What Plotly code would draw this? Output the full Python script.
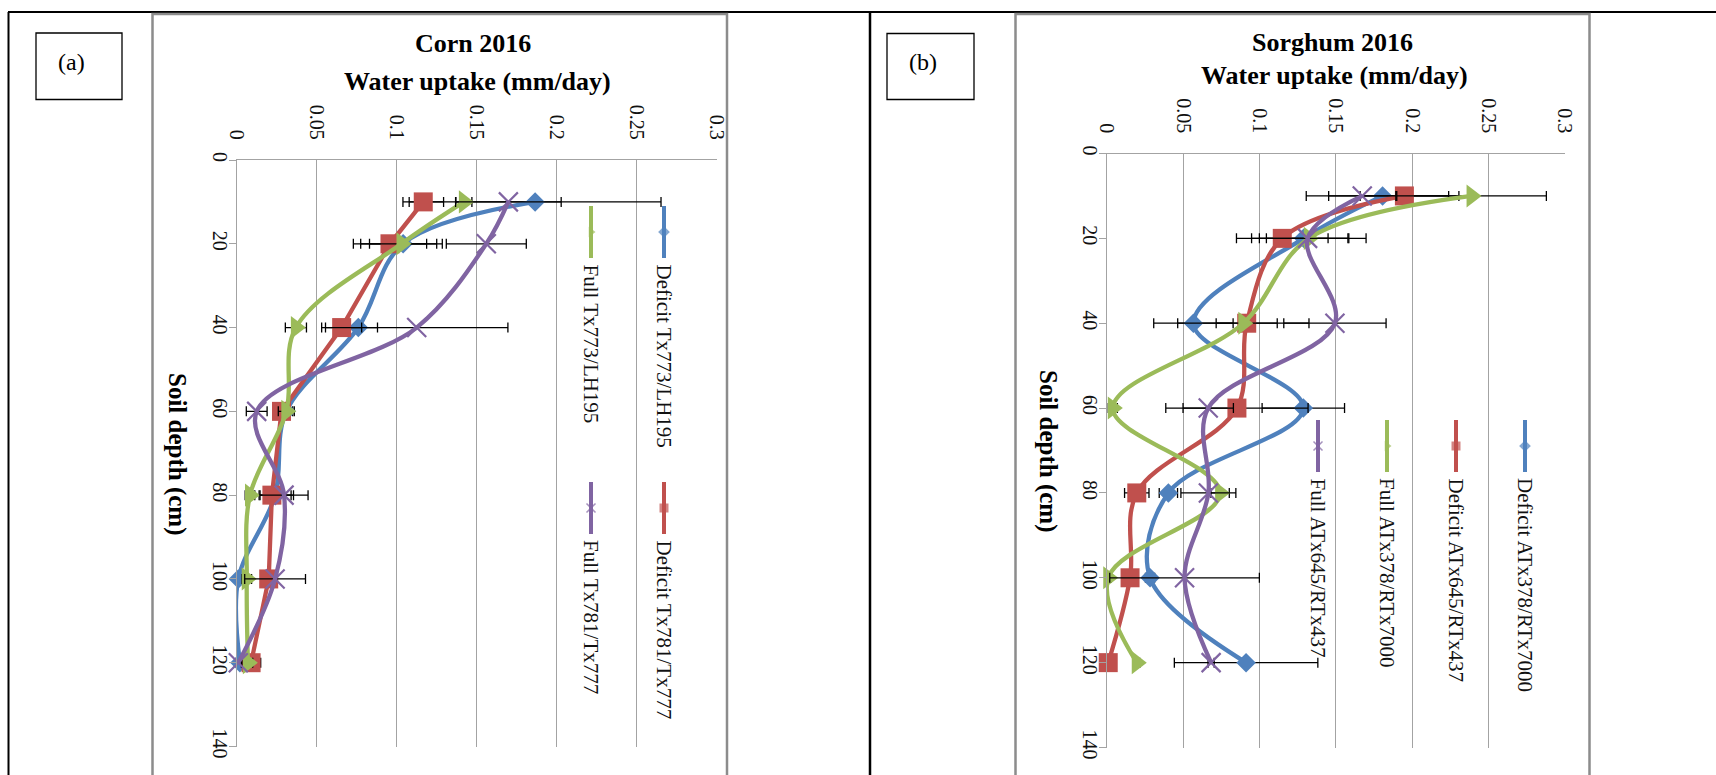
import plotly.graph_objects as go

W, H = 1716, 775

# ---- data -------------------------------------------------------------
depth = [10, 20, 40, 60, 80, 100, 120]

uptake_ticks = [0, 0.05, 0.1, 0.15, 0.2, 0.25, 0.3]
uptake_tick_text = ["0", "0.05", "0.1", "0.15", "0.2", "0.25", "0.3"]
depth_ticks = [0, 20, 40, 60, 80, 100, 120, 140]
depth_tick_text = ["0", "20", "40", "60", "80", "100", "120", "140"]

# Corn 2016 (mm/day) and standard errors
corn_names = ["Deficit Tx773/LH195", "Deficit Tx781/Tx777",
              "Full Tx773/LH195", "Full Tx781/Tx777"]
corn_deficit_773 = [0.1865, 0.104, 0.076, 0.031, 0.024, 0.001, 0.002]
corn_deficit_773_se = [0.0787, 0.021, 0.012, 0.004, 0.010, 0.002, 0.002]
corn_deficit_781 = [0.1166, 0.0958, 0.0656, 0.028, 0.022, 0.020, 0.009]
corn_deficit_781_se = [0.0127, 0.0229, 0.0125, 0.004, 0.0135, 0.004, 0.006]
corn_full_773 = [0.142, 0.103, 0.037, 0.031, 0.0083, 0.0063, 0.007]
corn_full_773_se = [0.005, 0.0255, 0.0066, 0.005, 0.003, 0.003, 0.003]
corn_full_781 = [0.1698, 0.156, 0.1125, 0.0125, 0.0296, 0.024, 0.001]
corn_full_781_se = [0.033, 0.025, 0.057, 0.0065, 0.015, 0.019, 0.002]

# Sorghum 2016 (mm/day) and standard errors
sorghum_names = ["Deficit ATx378/RTx7000", "Deficit ATx645/RTx437",
                 "Full ATx378/RTx7000", "Full ATx645/RTx437"]
sorghum_deficit_378 = [0.1807, 0.129, 0.0568, 0.1288, 0.0404, 0.0284, 0.0913]
sorghum_deficit_378_se = [0.050, 0.029, 0.026, 0.027, 0.006, 0.003, 0.047]
sorghum_deficit_645 = [0.195, 0.115, 0.0917, 0.0853, 0.0197, 0.0153, 0.001]
sorghum_deficit_645_se = [0.029, 0.030, 0.020, 0.0466, 0.008, 0.003, 0.002]
sorghum_full_378 = [0.239, 0.1324, 0.0895, 0.004, 0.0743, 0.001, 0.0197]
sorghum_full_378_se = [0.049, 0.0375, 0.043, 0.003, 0.006, 0.002, 0.002]
sorghum_full_645 = [0.1674, 0.1316, 0.1495, 0.0665, 0.0666, 0.051, 0.0684]
sorghum_full_645_se = [0.022, 0.027, 0.0335, 0.0165, 0.018, 0.049, 0.002]

# ---- styling ----------------------------------------------------------
BLUE, RED, GREEN, PURPLE = "#4F81BD", "#C0504D", "#9BBB59", "#8064A2"
SERIF = "Times New Roman, Liberation Serif, serif"
GRID = "#a3a3a3"

styles = [
    dict(color=BLUE, symbol="diamond", size=15),
    dict(color=RED, symbol="square", size=19),
    dict(color=GREEN, symbol="triangle-right", size=20),
    dict(color=PURPLE, symbol="x-thin", size=19),
]

fig = go.Figure()


def add_series(vals, errs, st, xa, ya, shape="spline"):
    marker = dict(symbol=st["symbol"], size=st["size"], color=st["color"],
                  line=dict(color=st["color"], width=2.2 if st["symbol"] == "x-thin" else 0))
    fig.add_trace(go.Scatter(
        x=vals, y=depth, xaxis=xa, yaxis=ya, mode="lines+markers",
        line=dict(color=st["color"], width=4.3, shape=shape, smoothing=1),
        marker=marker,
        error_x=dict(type="data", array=errs, visible=True, color="black",
                     thickness=1.3, width=5),
        cliponaxis=False, showlegend=False, hoverinfo="skip"))


corn = [(corn_deficit_773, corn_deficit_773_se, "spline"),
        (corn_deficit_781, corn_deficit_781_se, "linear"),
        (corn_full_773, corn_full_773_se, "spline"),
        (corn_full_781, corn_full_781_se, "spline")]
for (v, e, shp), st in zip(corn, styles):
    add_series(v, e, st, "x", "y", shp)

sorghum = [(sorghum_deficit_378, sorghum_deficit_378_se),
           (sorghum_deficit_645, sorghum_deficit_645_se),
           (sorghum_full_378, sorghum_full_378_se),
           (sorghum_full_645, sorghum_full_645_se)]
for (v, e), st in zip(sorghum, styles):
    add_series(v, e, st, "x2", "y2")

# ---- legend glyphs and page furniture on a pixel-space overlay ---------
annotations = []
shapes = []


def legend_entry(cx, y_top, st, label):
    y_bot = y_top + 52
    fig.add_trace(go.Scatter(
        x=[cx, cx, cx], y=[y_top, (y_top + y_bot) / 2, y_bot],
        xaxis="x3", yaxis="y3", mode="lines+markers",
        line=dict(color=st["color"], width=4),
        marker=dict(symbol=st["symbol"], size=[0, 9, 0], color=st["color"],
                    line=dict(color=st["color"], width=1.5 if st["symbol"] == "x-thin" else 0)),
        showlegend=False, hoverinfo="skip", cliponaxis=False))
    annotations.append(dict(x=cx, y=y_bot + 4, xref="x3", yref="y3", text=label,
                            textangle=90, showarrow=False, xanchor="center", yanchor="top",
                            font=dict(family=SERIF, size=21, color="#111")))


# corn legend: two columns of two entries
legend_entry(664, 206, styles[0], corn_names[0])
legend_entry(664, 482, styles[1], corn_names[1])
legend_entry(591, 206, styles[2], corn_names[2])
legend_entry(591, 482, styles[3], corn_names[3])
# sorghum legend: four stacked columns
legend_entry(1525, 420, styles[0], sorghum_names[0])
legend_entry(1456, 420, styles[1], sorghum_names[1])
legend_entry(1387, 420, styles[2], sorghum_names[2])
legend_entry(1318, 420, styles[3], sorghum_names[3])


def text(x, y, s, size, bold=False, angle=0):
    annotations.append(dict(x=x, y=y, xref="x3", yref="y3", text=s, textangle=angle,
                            showarrow=False, xanchor="center", yanchor="middle",
                            font=dict(family=SERIF, size=size, color="black",
                                      weight="bold" if bold else "normal")))


text(473, 43, "Corn 2016", 26, bold=True)
text(477, 81, "Water uptake (mm/day)", 26, bold=True)
text(1332, 42, "Sorghum 2016", 26, bold=True)
text(1334, 75, "Water uptake (mm/day)", 26, bold=True)
text(177, 454, "Soil depth (cm)", 25, bold=True, angle=90)
text(1048, 451, "Soil depth (cm)", 25, bold=True, angle=90)
text(71, 62, "(a)", 24)
text(923, 62, "(b)", 24)


def line(x0, y0, x1, y1, color="black", width=2):
    shapes.append(dict(type="line", x0=x0, y0=y0, x1=x1, y1=y1, xref="x3", yref="y3",
                       line=dict(color=color, width=width)))


def rect(x0, y0, x1, y1, color="black", width=1.3):
    shapes.append(dict(type="rect", x0=x0, y0=y0, x1=x1, y1=y1, xref="x3", yref="y3",
                       line=dict(color=color, width=width), fillcolor="rgba(0,0,0,0)"))


# table rules
line(8, 12, W, 12, width=2)
line(8.5, 12, 8.5, H, width=2)
line(870, 12, 870, H, width=2.5)
# label boxes
rect(36, 33, 122, 99.5)
rect(887, 33.5, 974, 99.5)
# chart frames
rect(152.5, 14, 727, H + 10, color="#8c8c8c", width=2.5)
rect(1015.5, 14, 1589.5, H + 10, color="#8c8c8c", width=2.5)


def px_x(p):
    return p / W


def px_y(p):
    return 1 - p / H


def uptake_axis(x0, x1, anchor):
    return dict(domain=[px_x(x0), px_x(x1)], range=[0, 0.3], side="top", anchor=anchor,
                tickvals=uptake_ticks, ticktext=uptake_tick_text, tickangle=90,
                ticks="", showgrid=True, gridcolor=GRID, gridwidth=1.2,
                showline=True, linecolor=GRID, linewidth=1.3, zeroline=False,
                tickfont=dict(family=SERIF, size=20, color="#111"),
                ticklabelstandoff=12, fixedrange=True, automargin=False)


def depth_axis(y0, y1, anchor):
    return dict(domain=[px_y(y1), px_y(y0)], range=[140, 0], anchor=anchor,
                tickvals=depth_ticks, ticktext=depth_tick_text, tickangle=90,
                ticks="outside", ticklen=7, tickcolor=GRID, tickwidth=1.3,
                showgrid=False, showline=True, linecolor=GRID, linewidth=1.3,
                zeroline=False, tickfont=dict(family=SERIF, size=20, color="#111"),
                ticklabelstandoff=-8, fixedrange=True, automargin=False)


fig.update_layout(
    width=W, height=H,
    margin=dict(l=0, r=0, t=0, b=0, pad=0, autoexpand=False),
    paper_bgcolor="white", plot_bgcolor="rgba(0,0,0,0)",
    showlegend=False,
    xaxis=uptake_axis(236.7, 716.7, "y"),
    yaxis=depth_axis(160, 746.5, "x"),
    xaxis2=uptake_axis(1106.7, 1564.7, "y2"),
    yaxis2=depth_axis(153.5, 747.5, "x2"),
    xaxis3=dict(domain=[0, 1], range=[0, W], visible=False, anchor="y3",
                fixedrange=True, automargin=False),
    yaxis3=dict(domain=[0, 1], range=[H, 0], visible=False, anchor="x3",
                fixedrange=True, automargin=False),
    annotations=annotations,
    shapes=shapes,
)

fig.write_html("out.html")
